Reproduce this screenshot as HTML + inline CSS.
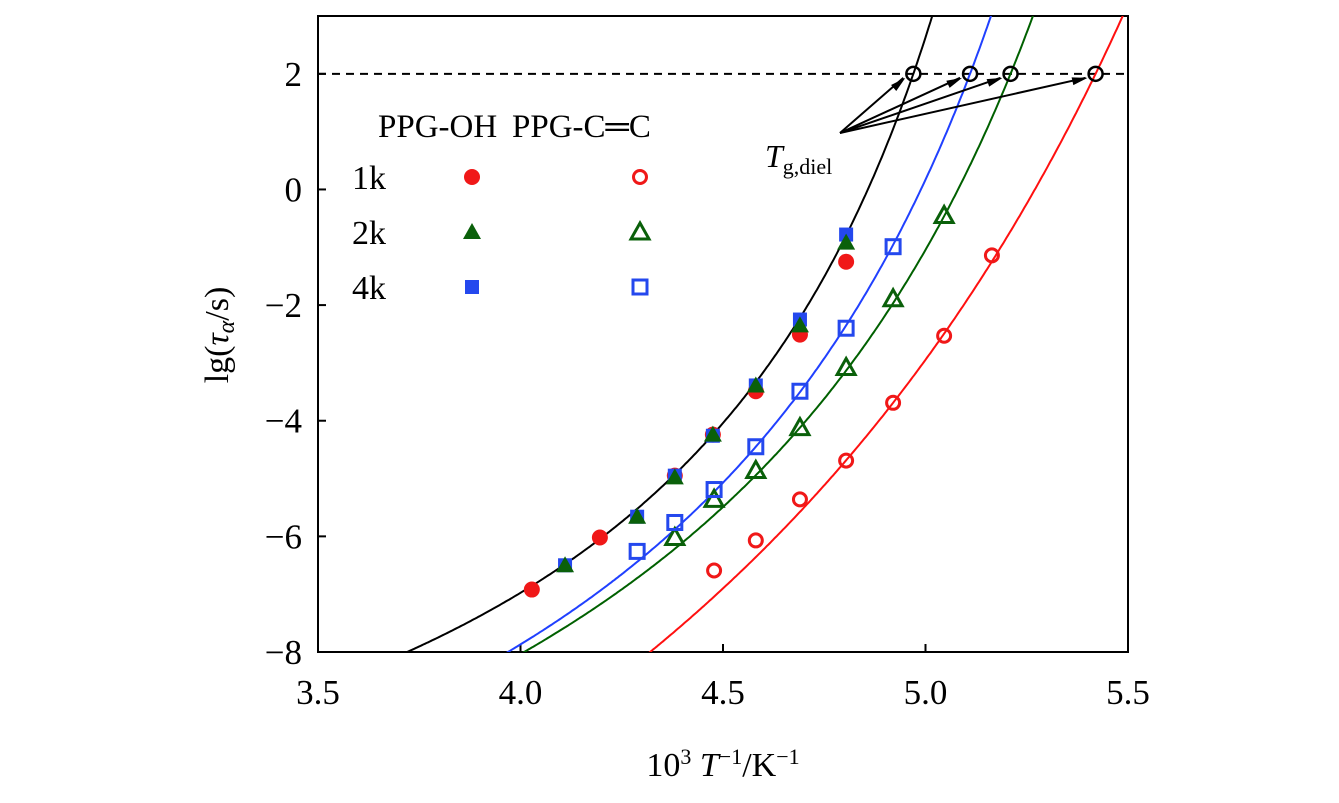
<!DOCTYPE html>
<html><head><meta charset="utf-8"><style>
html,body{margin:0;padding:0;background:#fff;overflow:hidden;width:1339px;height:803px}
svg{display:block;font-family:"Liberation Serif",serif}
</style></head><body>
<svg width="1339" height="803">
<g id="root"></g>
</svg>
<script>
const xTicks=[3.5,4.0,4.5,5.0,5.5];
const xTickLabels=["3.5","4.0","4.5","5.0","5.5"];
const yTicks=[2,0,-2,-4,-6,-8];
const yTickLabels=["2","0","\u22122","\u22124","\u22126","\u22128"];
const oh1kX=[4.028,4.196,4.381,4.475,4.581,4.69,4.804];
const oh1kY=[-6.92,-6.02,-4.95,-4.24,-3.49,-2.51,-1.25];
const oh2kX=[4.11,4.288,4.381,4.475,4.581,4.69,4.804];
const oh2kY=[-6.5,-5.66,-4.98,-4.24,-3.39,-2.35,-0.92];
const oh4kX=[4.11,4.288,4.381,4.475,4.581,4.69,4.804];
const oh4kY=[-6.5,-5.66,-4.95,-4.26,-3.39,-2.25,-0.78];
const cc1kX=[4.478,4.581,4.69,4.804,4.92,5.046,5.164];
const cc1kY=[-6.59,-6.07,-5.36,-4.69,-3.69,-2.53,-1.14];
const cc2kX=[4.381,4.478,4.581,4.69,4.804,4.92,5.046];
const cc2kY=[-6.02,-5.36,-4.86,-4.12,-3.08,-1.89,-0.45];
const cc4kX=[4.288,4.381,4.478,4.581,4.69,4.804,4.92];
const cc4kY=[-6.26,-5.76,-5.19,-4.45,-3.49,-2.4,-0.99];
const tgX=[4.97,5.11,5.21,5.42];
const tgY=2;
const fitBlackX=[3.72,4.475,4.97], fitBlackY=[-8,-4.24,2];
const fitBlueX=[3.969,4.581,5.11], fitBlueY=[-8,-4.45,2];
const fitGreenX=[4.009,4.69,5.21], fitGreenY=[-8,-4.12,2];
const fitRedX=[4.32,4.92,5.42], fitRedY=[-8,-3.69,2];

const NS="http://www.w3.org/2000/svg";
const root=document.getElementById('root');
const L=318,R=1128,T=16,B=652;
const sx=v=>L+(v-3.5)*(R-L)/2;
const sy=v=>T+(3-v)*(B-T)/11;
function el(tag,at,parent){const e=document.createElementNS(NS,tag);for(const k in at)e.setAttribute(k,at[k]);(parent||root).appendChild(e);return e;}
function txt(s,at){const e=el('text',at);e.textContent=s;return e;}

const frame=el('rect',{x:L,y:T,width:R-L,height:B-T,fill:'none',stroke:'#000','stroke-width':2});


xTicks.forEach((v,i)=>{
  const t=el('line',{x1:sx(v),x2:sx(v),y1:B,y2:B-8,stroke:'#000','stroke-width':2});
  
  
  const l=txt(xTickLabels[i],{x:sx(v),y:B+52,'text-anchor':'middle','font-size':35});
  
  
});
yTicks.forEach((v,i)=>{
  const t=el('line',{x1:L,x2:L+8,y1:sy(v),y2:sy(v),stroke:'#000','stroke-width':2});
  
  
  const l=txt(yTickLabels[i],{x:L-16,y:sy(v)+12,'text-anchor':'end','font-size':35});
  
  
});
const xt=el('text',{x:723,y:776,'text-anchor':'middle','font-size':34});
xt.innerHTML='10<tspan dy="-12" font-size="22">3</tspan><tspan dy="12"> </tspan><tspan font-style="italic">T</tspan><tspan dy="-12" font-size="22">\u22121</tspan><tspan dy="12">/K</tspan><tspan dy="-12" font-size="22">\u22121</tspan>';


const yt=el('text',{transform:'translate(228,335) rotate(-90)','text-anchor':'middle','font-size':34});
yt.innerHTML='lg(<tspan font-style="italic">τ</tspan><tspan font-style="italic" font-size="24" dy="6">α</tspan><tspan dy="-6">/s)</tspan>';



const dl=el('line',{x1:L,x2:R,y1:sy(2),y2:sy(2),stroke:'#000','stroke-width':2,'stroke-dasharray':'8,6'});



function vft(xs,ys){
  const Ts=xs.map(x=>1000/x);
  const a1=ys[1]-ys[0],b1=Ts[1]-Ts[0],c1=ys[1]*Ts[1]-ys[0]*Ts[0];
  const a2=ys[2]-ys[0],b2=Ts[2]-Ts[0],c2=ys[2]*Ts[2]-ys[0]*Ts[0];
  const det=a1*b2-a2*b1;
  const T0=(c1*b2-c2*b1)/det, A=(a1*c2-a2*c1)/det;
  const Bv=(ys[0]-A)*(Ts[0]-T0);
  return x=>A+Bv/(1000/x-T0);
}
const cp=el('clipPath',{id:'cp'});el('rect',{x:L,y:T,width:R-L,height:B-T},cp);
function curve(xs,ys,color,name){
  const f=vft(xs,ys);let d='';
  for(let x=3.5;x<=5.6;x+=0.004){const y=f(x);if(!isFinite(y))continue;const py=Math.max(T-4,Math.min(B+4,sy(y)));d+=(d?'L':'M')+sx(x).toFixed(1)+','+py.toFixed(1);if(y>3.1)break;}
  const p=el('path',{d,fill:'none',stroke:color,'stroke-width':2,'clip-path':'url(#cp)'});
  
  
}
curve(fitBlackX,fitBlackY,'#000','fit-curve-ppg-oh');
curve(fitBlueX,fitBlueY,'#2040ff','fit-curve-4k-cc');
curve(fitGreenX,fitGreenY,'#006000','fit-curve-2k-cc');
curve(fitRedX,fitRedY,'#ff1010','fit-curve-1k-cc');

function marker(type,cx,cy,color,filled){
  let m;
  const fill=filled?color:'none',sw=filled?0:3;
  if(type==='c') m=el('circle',{cx,cy,r:filled?8:6.5,fill,stroke:color,'stroke-width':sw});
  else if(type==='t') m=el('path',{d:`M${cx},${cy-9}L${cx+9},${cy+7}L${cx-9},${cy+7}Z`,fill,stroke:color,'stroke-width':sw});
  else m=el('rect',{x:cx-7,y:cy-7,width:14,height:14,fill,stroke:color,'stroke-width':sw});
  return m;
}
function series(xs,ys,type,color,filled,name){
  xs.forEach((x,i)=>{const m=marker(type,sx(x),sy(ys[i]),color,filled);
    
    });
}
series(oh1kX,oh1kY,'c','#f01818',true,'point-ppg-oh-1k');
series(oh4kX,oh4kY,'s','#2448ee',true,'point-ppg-oh-4k');
series(oh2kX,oh2kY,'t','#0a600a',true,'point-ppg-oh-2k');
series(cc1kX,cc1kY,'c','#f01818',false,'point-ppg-cc-1k');
series(cc2kX,cc2kY,'t','#0a600a',false,'point-ppg-cc-2k');
series(cc4kX,cc4kY,'s','#2448ee',false,'point-ppg-cc-4k');

tgX.forEach(v=>{
  const x=sx(v),y=sy(tgY);
  const a=el('line',{x1:840,y1:133,x2:x-10,y2:y+4,stroke:'#000','stroke-width':2});
  
  
  const ang=Math.atan2(y+4-133,x-10-840);
  const hx=x-8,hy=y+4;
  const h=el('path',{d:`M${hx},${hy}L${hx-16*Math.cos(ang-0.25)},${hy-16*Math.sin(ang-0.25)}L${hx-16*Math.cos(ang+0.25)},${hy-16*Math.sin(ang+0.25)}Z`,fill:'#000'});
  
  
  const c=el('circle',{cx:x,cy:y,r:7,fill:'none',stroke:'#000','stroke-width':2.5});
  
  
});
const tgl=el('text',{x:765,y:167,'font-size':32});
tgl.innerHTML='<tspan font-style="italic">T</tspan><tspan font-size="22" dy="7">g,diel</tspan>';



const lh=[['PPG-OH',378],['PPG-C\u2550C',512]];
lh.forEach(([s,x])=>{const t=txt(s,{x,y:137,'font-size':33});
  
  });
[['1k',189,'c','#f01818'],['2k',244,'t','#0a600a'],['4k',299,'s','#2448ee']].forEach(([s,y,tp,col])=>{
  const t=txt(s,{x:352,y,'font-size':34});
  
  
  const m1=marker(tp,472,y-12,col,true);
  
  
  const m2=marker(tp,640,y-12,col,false);
  
  
});
</script>
</body></html>
